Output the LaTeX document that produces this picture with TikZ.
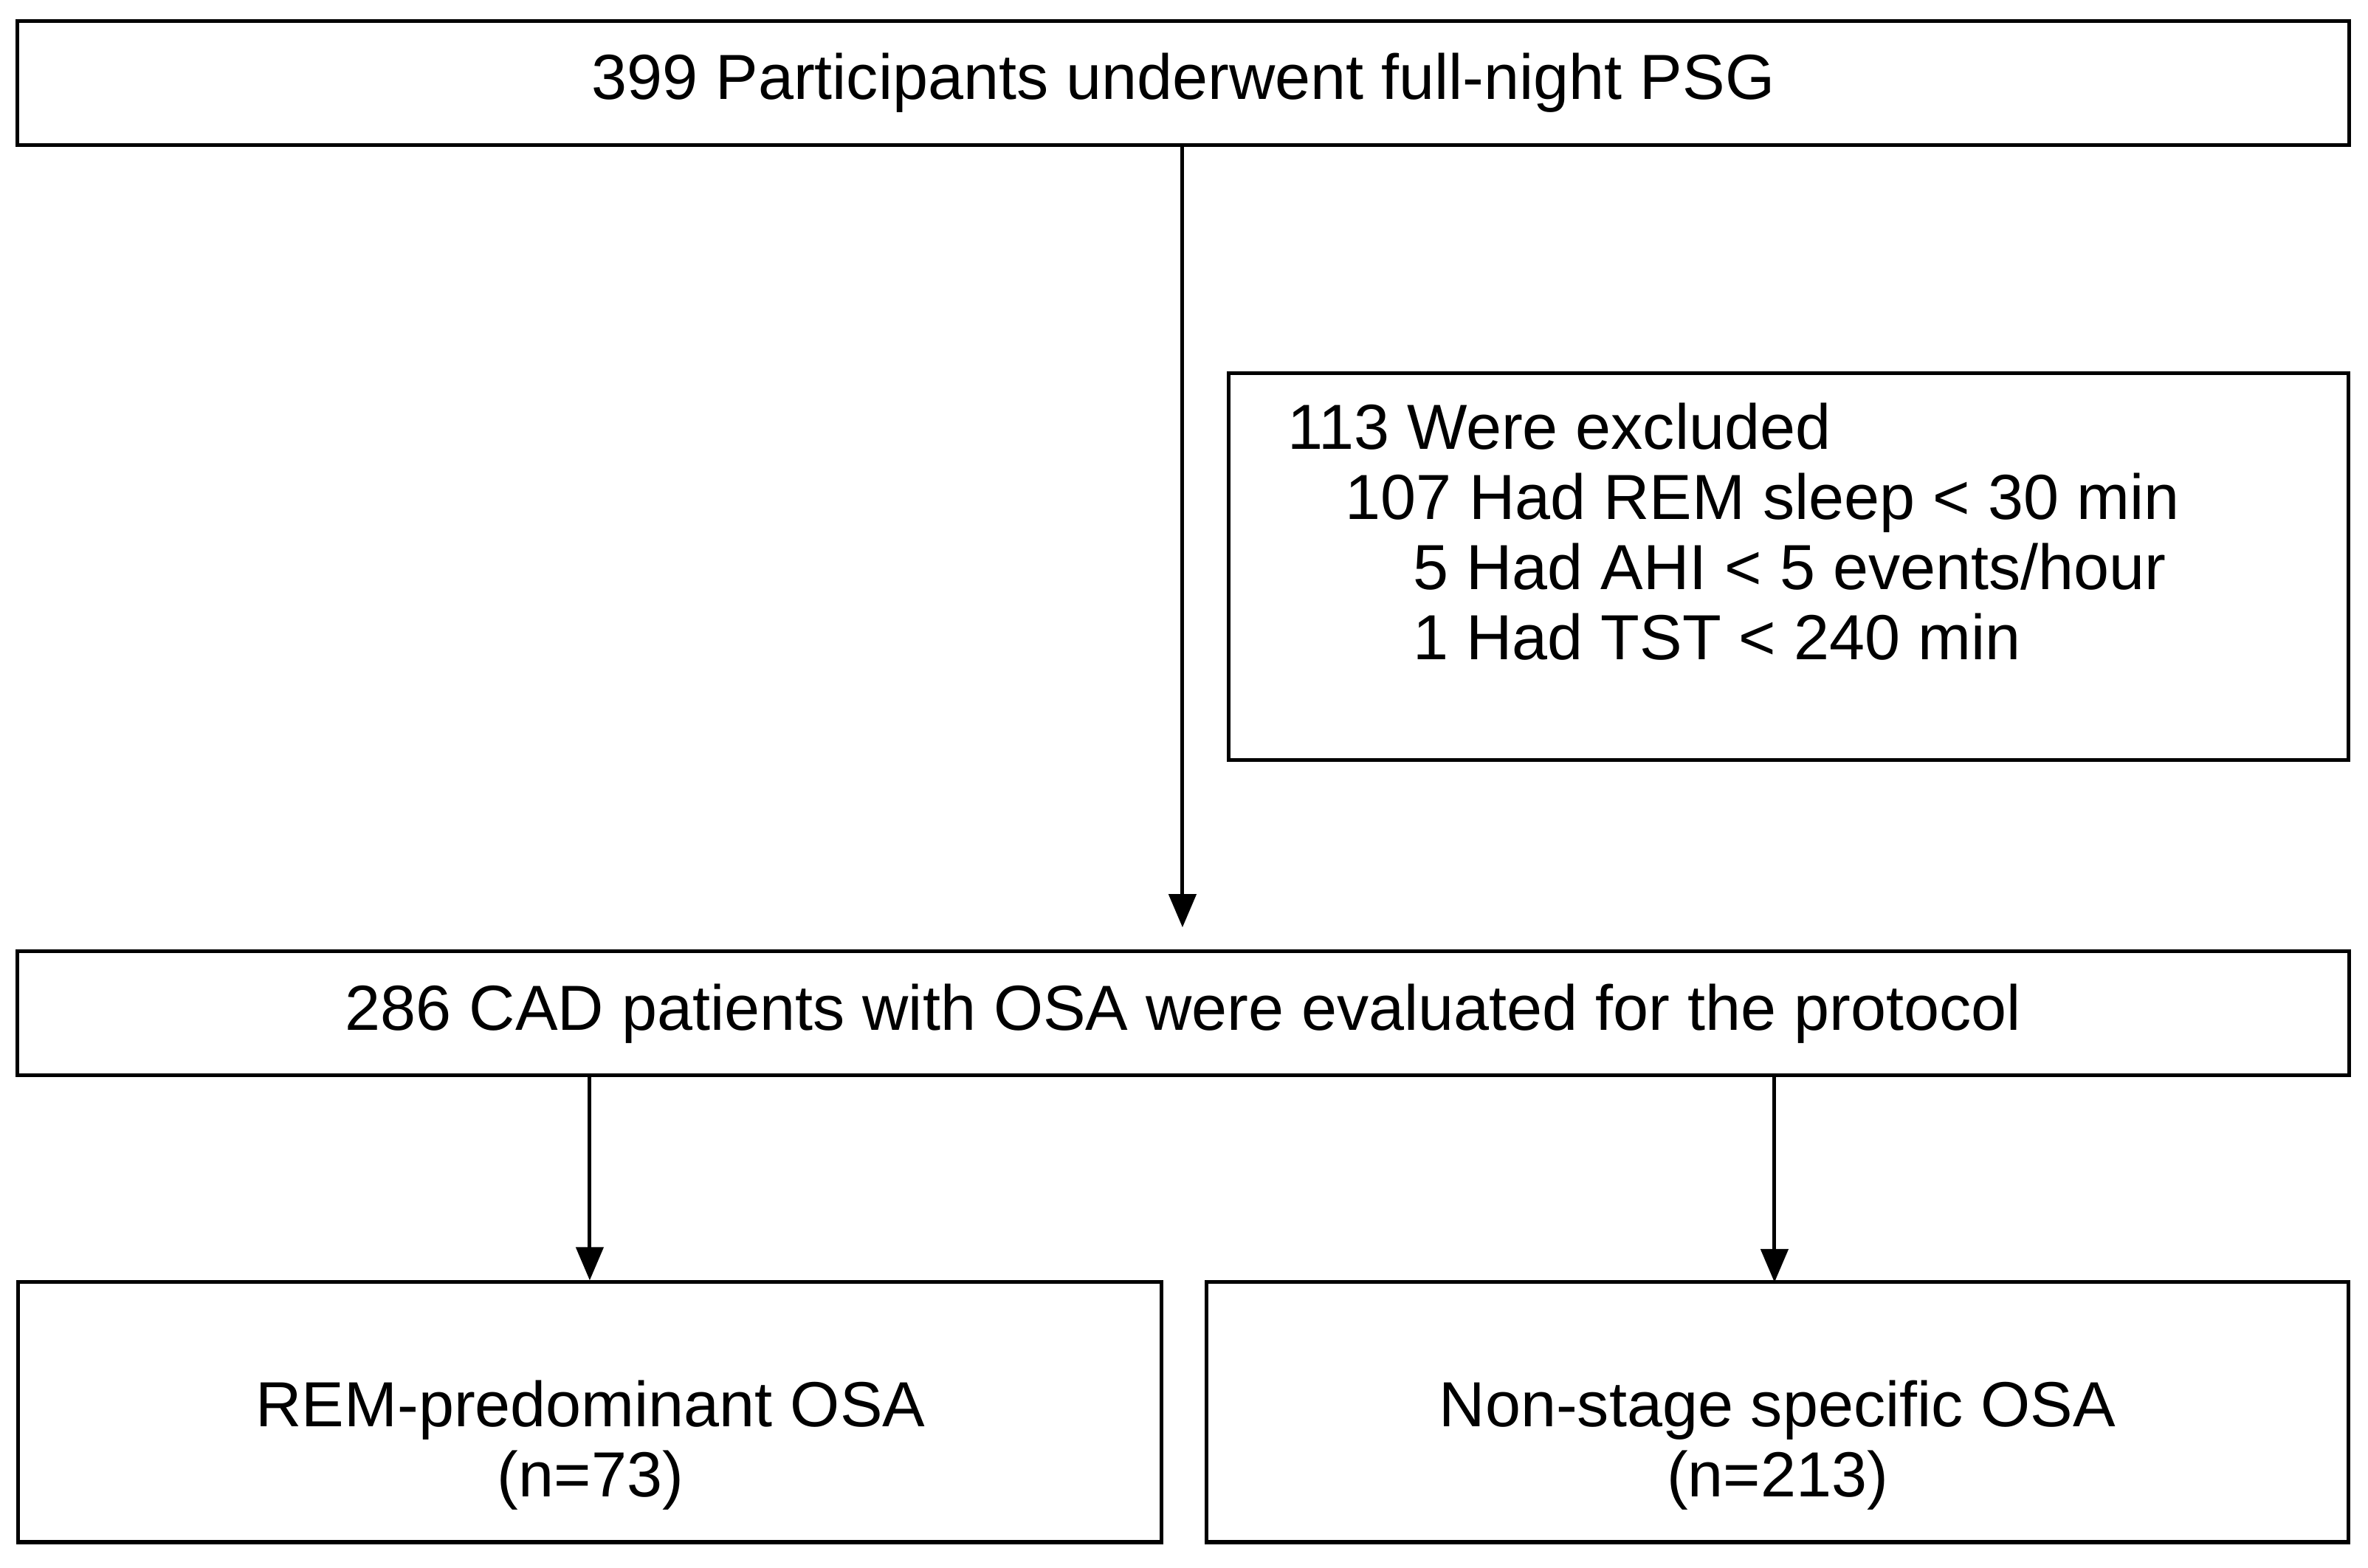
\documentclass[tikz,border=0pt]{standalone}
\usepackage{fontspec}
\setmainfont{Liberation Sans}
\usetikzlibrary{arrows.meta}
\begin{document}
\begin{tikzpicture}[x=0.01cm, y=-0.01cm,
		txt/.style={inner sep=0pt, font=\fontsize{12}{13.2}\selectfont},
		box/.style={txt, draw=black, line width=0.7pt},
		flow/.style={-{Triangle[length=2.2mm, width=1.8mm]}, draw=black, line width=0.7pt}]
		
		\useasboundingbox (0,0) rectangle (1568,1038);
		
		% Boxes
		\node[box, minimum width=15.43cm, minimum height=0.82cm] (psg) at (783.5,55) {399 Participants underwent full-night PSG};
		\node[box, minimum width=7.41cm, minimum height=2.56cm] (excl) at (1184.5,375) {};
		\node[box, minimum width=15.43cm, minimum height=0.82cm] (cad) at (783.5,671) {286 CAD patients with OSA were evaluated for the protocol};
		\node[box, minimum width=7.57cm, minimum height=1.72cm] (rem) at (390.5,935) {};
		\node[box, minimum width=7.56cm, minimum height=1.72cm] (nss) at (1177,935) {};
		
		% Texts
		\node[txt, anchor=north west, align=left] (why) at (852,266)
			{113 Were excluded\\
			\hspace*{0.38cm}107 Had REM sleep < 30 min\\
			\hspace*{0.83cm}5 Had AHI < 5 events/hour\\
			\hspace*{0.83cm}1 Had TST < 240 min};
		\node[txt, align=center] (remtxt) at (391,957) {REM-predominant OSA\\(n=73)};
		\node[txt, align=center] (nsstxt) at (1177,957) {Non-stage specific OSA\\(n=213)};
		
		% Arrows
		\coordinate (cadin) at (783,614);
		\draw[flow] (psg.south -| cadin) -- (cadin);
		\draw[flow] (cad.south -| rem.north) -- (rem.north);
		\draw[flow] (cad.south -| 1175,0) -- (1175,849);
		
	\end{tikzpicture}
\end{document}
